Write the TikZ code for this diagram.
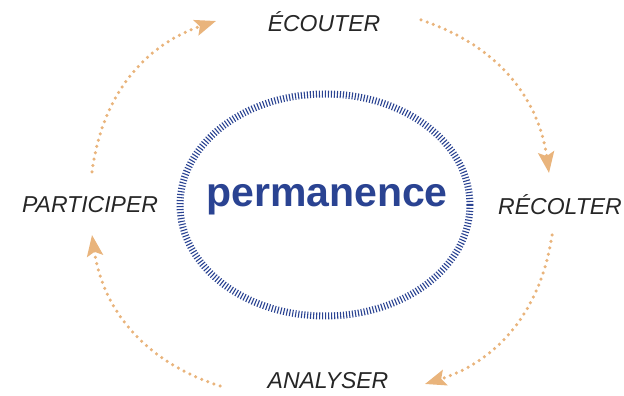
\documentclass[tikz,border=0pt]{standalone}
\usepackage{fontspec}
\setmainfont{Liberation Sans}
\usetikzlibrary{arrows.meta}
\definecolor{permblue}{HTML}{2A4392}
\definecolor{cycleorange}{HTML}{E9B47C}
\tikzset{
	steplabel/.style={font=\itshape\fontsize{23}{23}\selectfont, text=black!85, inner sep=0pt},
	cyclearrow/.style={cycleorange, line width=3.5pt, line cap=round, dash pattern=on 0pt off 6.5pt,
		-{Stealth[length=21pt,width=16pt,inset=4pt]}},
}

\begin{document}
\begin{tikzpicture}[x=1pt, y=1pt]
		%%%%% START %%%%%
		\useasboundingbox (0, 0) rectangle (624, 396);
		
		% centre
		\draw[permblue, line width=7pt, dash pattern=on 1.1pt off 1.9pt] (325, 191) ellipse [x radius=145pt, y radius=111pt];
		\node[text=permblue, font=\bfseries\fontsize{41}{41}\selectfont] (perm) at (327, 196) {permanence};
		
		% steps
		\node[steplabel] (ecouter) at (324, 374) {ÉCOUTER};
		\node[steplabel] (recolter) at (560, 191) {RÉCOLTER};
		\node[steplabel] (analyser) at (328, 15) {ANALYSER};
		\node[steplabel] (participer) at (90, 191) {PARTICIPER};
		
		\coordinate (ecouter-out) at (421, 376);
		\coordinate (recolter-in) at (549, 223);
		\coordinate (recolter-out) at (552, 161);
		\coordinate (analyser-in) at (425, 12);
		\coordinate (analyser-out) at (220, 10);
		\coordinate (participer-in) at (92, 161);
		\coordinate (participer-out) at (92, 224);
		\coordinate (ecouter-in) at (216, 375);
		
		% cycle
		\draw[cyclearrow] (ecouter-out) to[bend left=32] (recolter-in);
		\draw[cyclearrow] (recolter-out) to[bend left=32] (analyser-in);
		\draw[cyclearrow] (analyser-out) to[bend left=32] (participer-in);
		\draw[cyclearrow] (participer-out) to[bend left=32] (ecouter-in);
		%%%%% END %%%%%
	\end{tikzpicture}
\end{document}
